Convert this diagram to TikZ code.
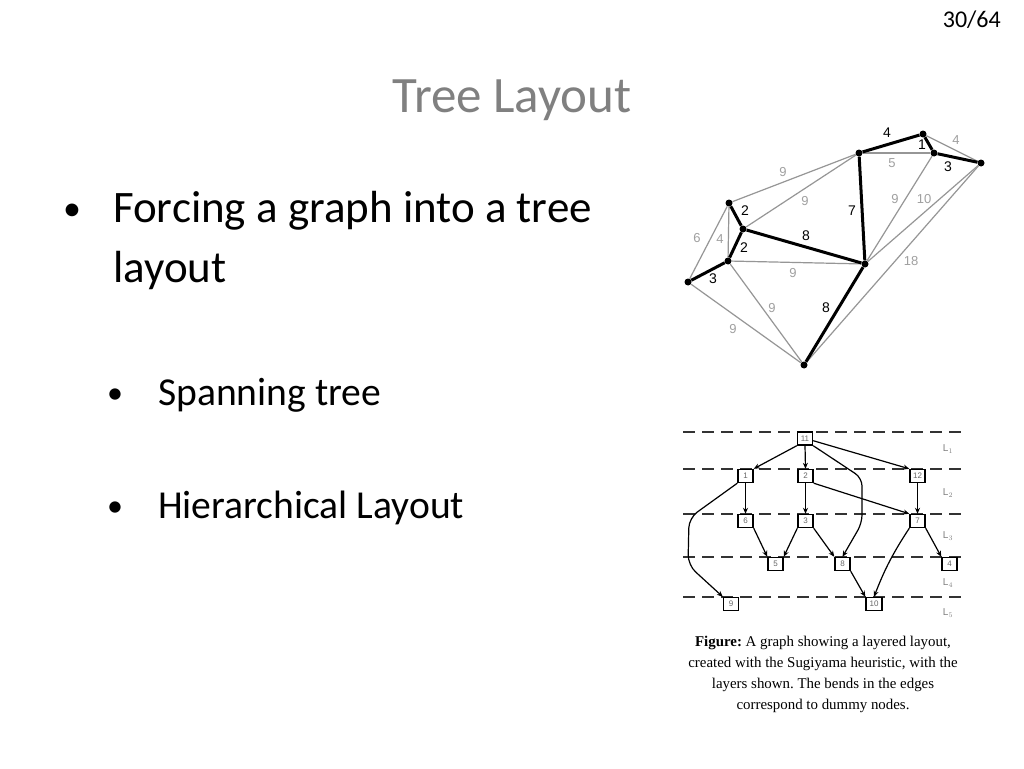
\documentclass[tikz,border=0pt]{standalone}
\usepackage{fontspec}
\setmainfont{Carlito}
\newfontfamily\capfont{Liberation Serif}
\newfontfamily\grfont{Liberation Sans}
\usetikzlibrary{arrows.meta}
\definecolor{titlegray}{RGB}{128,128,128}
\definecolor{edgegray}{RGB}{150,150,150}
\definecolor{lblgray}{RGB}{160,160,160}
\frenchspacing
\begin{document}
\begin{tikzpicture}[x=1pt,y=-1pt,
  dot/.style={circle,fill=black,inner sep=0pt,minimum size=7pt},
  treeedge/.style={line width=3pt,black},
  thinedge/.style={line width=1.2pt,edgegray},
  wl/.style={font=\grfont\fontsize{13}{13}\selectfont,text=lblgray,inner sep=0pt},
  tl/.style={font=\grfont\fontsize{14}{14}\selectfont,text=black,inner sep=0pt},
  box/.style={draw,line width=1.4pt,fill=white,minimum width=15pt,minimum height=13pt,inner sep=0pt,font=\grfont\fontsize{8}{8}\selectfont,text=black!60},
  arr/.style={line width=1.2pt,-{Stealth[length=6pt,width=5pt]}},
  layerline/.style={line width=2pt,black!80,dash pattern=on 12pt off 7pt},
  layl/.style={font=\grfont\fontsize{10}{10}\selectfont,text=gray,inner sep=0pt},
  captext/.style={font=\capfont\fontsize{14.9}{21}\selectfont,anchor=base,inner sep=0pt},
  bigtext/.style={font=\fontsize{45}{54}\selectfont,anchor=base west,inner sep=0pt},
  subtext/.style={font=\fontsize{39.6}{47}\selectfont,anchor=base west,inner sep=0pt},
  bulletmark/.style={font=\fontsize{36}{36}\selectfont,anchor=base west,inner sep=0pt}
]
\useasboundingbox (0,0) rectangle (1024,768);
\fill[white] (0,0) rectangle (1024,768);

% page number and title
\node[font=\fontsize{24}{24}\selectfont,anchor=base east,inner sep=0pt] (pg) at (1001,28) {30/64};
\node[font=\fontsize{51}{51}\selectfont,text=titlegray,anchor=base,inner sep=0pt] (title) at (512,112) {Tree Layout};

% bullets
\node[bulletmark] (b1) at (63,220) {\textbullet};
\node[bigtext] (t1) at (113,222) {Forcing a graph into a tree};
\node[bigtext] (t1b) at (113,282) {layout};
\node[bulletmark,font=\fontsize{32}{32}\selectfont] (b2) at (107,403) {\textbullet};
\node[subtext] (t2) at (158,405) {Spanning tree};
\node[bulletmark,font=\fontsize{32}{32}\selectfont] (b3) at (107,516) {\textbullet};
\node[subtext] (t3) at (158,518) {Hierarchical Layout};

% ---------- upper graph ----------
\node[dot] (a) at (729,203) {};
\node[dot] (b) at (743,229) {};
\node[dot] (c) at (728,261) {};
\node[dot] (d) at (688,282) {};
\node[dot] (e) at (804,365) {};
\node[dot] (f) at (865,264) {};
\node[dot] (g) at (859,153) {};
\node[dot] (h) at (923,134) {};
\node[dot] (i) at (934,153) {};
\node[dot] (j) at (981,163) {};

\draw[thinedge] (a) -- (g);
\draw[thinedge] (b) -- (g);
\draw[thinedge] (a) -- (c);
\draw[thinedge] (a) -- (d);
\draw[thinedge] (c) -- (f);
\draw[thinedge] (c) -- (e);
\draw[thinedge] (d) -- (e);
\draw[thinedge] (g) -- (i);
\draw[thinedge] (h) -- (j);
\draw[thinedge] (f) -- (i);
\draw[thinedge] (f) -- (j);
\draw[thinedge] (e) -- (j);

\draw[treeedge] (d) -- (c);
\draw[treeedge] (c) -- (b);
\draw[treeedge] (b) -- (a);
\draw[treeedge] (b) -- (f);
\draw[treeedge] (f) -- (e);
\draw[treeedge] (f) -- (g);
\draw[treeedge] (g) -- (h);
\draw[treeedge] (h) -- (i);
\draw[treeedge] (i) -- (j);

\node[wl] (w1) at (783,172) {9};
\node[wl] (w2) at (805,201) {9};
\node[wl] (w3) at (697,238) {6};
\node[wl] (w4) at (720,239) {4};
\node[wl] (w5) at (793,273) {9};
\node[wl] (w6) at (772,308) {9};
\node[wl] (w7) at (733,329) {9};
\node[wl] (w8) at (911,261) {18};
\node[wl] (w9) at (895,199) {9};
\node[wl] (w10) at (924,199) {10};
\node[wl] (w11) at (892,163) {5};
\node[wl] (w12) at (956,140) {4};

\node[tl] (k1) at (745,211) {2};
\node[tl] (k2) at (852,211) {7};
\node[tl] (k3) at (806,236) {8};
\node[tl] (k4) at (744,248) {2};
\node[tl] (k5) at (713,279) {3};
\node[tl] (k6) at (826,308) {8};
\node[tl] (k7) at (887,133) {4};
\node[tl] (k8) at (922,145) {1};
\node[tl] (k9) at (948,167) {3};

% ---------- lower graph ----------
\coordinate (la1) at (683,432); \coordinate (lb1) at (965,432);
\coordinate (la2) at (683,469); \coordinate (lb2) at (965,469);
\coordinate (la3) at (683,514); \coordinate (lb3) at (965,514);
\coordinate (la4) at (683,557); \coordinate (lb4) at (965,557);
\coordinate (la5) at (683,597); \coordinate (lb5) at (965,597);
\draw[layerline] (la1) -- (lb1);
\draw[layerline] (la2) -- (lb2);
\draw[layerline] (la3) -- (lb3);
\draw[layerline] (la4) -- (lb4);
\draw[layerline] (la5) -- (lb5);

\node[layl] (L1) at (948,449) {L$_1$};
\node[layl] (L2) at (948,493) {L$_2$};
\node[layl] (L3) at (948,536) {L$_3$};
\node[layl] (L4) at (948,583) {L$_4$};
\node[layl] (L5) at (948,613) {L$_5$};

\node[box] (n11) at (805,438.5) {11};
\node[box] (n1) at (745.5,476) {1};
\node[box] (n2) at (805.5,476) {2};
\node[box] (n12) at (917.5,476) {12};
\node[box] (n6) at (745.5,521) {6};
\node[box] (n3) at (805.5,521) {3};
\node[box] (n7) at (917.5,521) {7};
\node[box] (n5) at (775.5,564) {5};
\node[box] (n8) at (842.5,564) {8};
\node[box] (n4) at (949.5,564) {4};
\node[box] (n9) at (731,604) {9};
\node[box,minimum width=16pt] (n10) at (874,604) {10};

\coordinate (p1) at (862,478);
\coordinate (p2) at (862,523);
\coordinate (q1) at (689,518);
\coordinate (q2) at (688,565);

\draw[arr] (n11.south west) -- (n1.north east);
\draw[arr] (n11.south) -- (n2.north);
\draw[arr] (n11.-15) -- (n12.north west);
\draw[arr,rounded corners=8pt] (n11.south east) -- (p1) -- (p2) -- (n8.north);
\draw[arr] (n1.south) -- (n6.north);
\draw[arr,rounded corners=10pt] (n1.south west) -- (q1) -- (q2) -- (n9.north west);
\draw[arr] (n2.south) -- (n3.north);
\draw[arr] (n2.south east) -- (n7.north west);
\draw[arr] (n12.south) -- (n7.north);
\draw[arr] (n6.south east) -- (n5.north west);
\draw[arr] (n3.south west) -- (n5.north east);
\draw[arr] (n3.south east) -- (n8.north west);
\draw[arr] (n7.south east) -- (n4.north west);
\draw[arr] (n7.south west) to[bend right=6] (n10.north);
\draw[arr] (n8.south east) -- (n10.north west);

% caption
\node[captext] (c1) at (823,646) {\textbf{Figure:} A graph showing a layered layout,};
\node[captext] (c2) at (823,667) {created with the Sugiyama heuristic, with the};
\node[captext] (c3) at (823,688) {layers shown. The bends in the edges};
\node[captext] (c4) at (823,709) {correspond to dummy nodes.};
\end{tikzpicture}
\end{document}
